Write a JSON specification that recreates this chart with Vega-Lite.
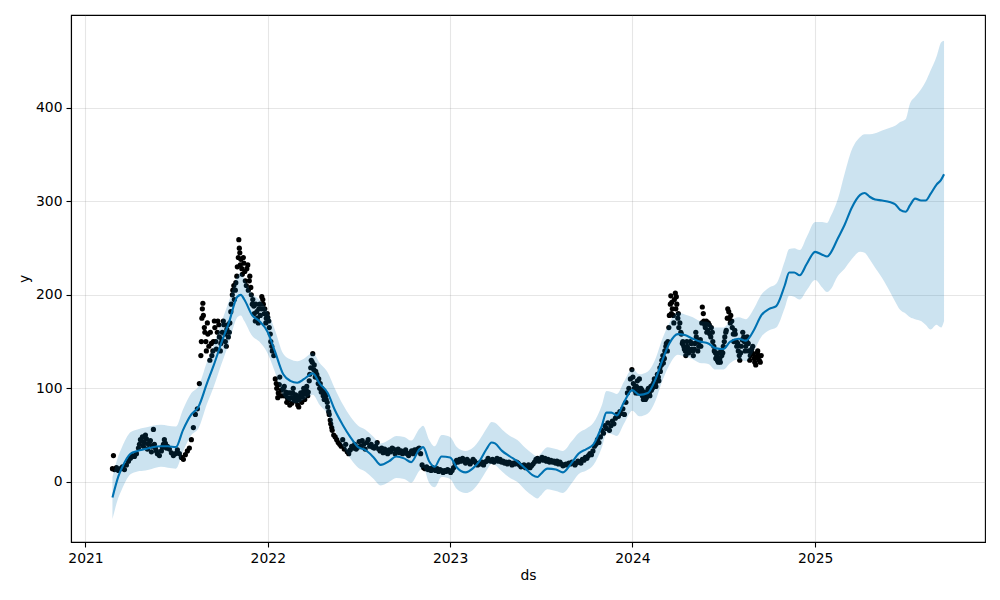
{
  "$schema": "https://vega.github.io/schema/vega-lite/v6.json",
  "width": 914,
  "height": 527,
  "autosize": {"type": "none"},
  "padding": {"left": 71, "top": 15, "right": 15, "bottom": 58},
  "background": "white",
  "config": {
    "view": {"stroke": "black", "strokeWidth": 1.1},
    "font": "DejaVu Sans",
    "axis": {
      "labelFont": "DejaVu Sans", "labelFontSize": 13.9, "labelColor": "black",
      "titleFont": "DejaVu Sans", "titleFontSize": 13.9, "titleFontWeight": "normal", "titleColor": "black",
      "tickColor": "black", "tickSize": 5, "tickWidth": 1.1, "labelPadding": 4,
      "domainColor": "black", "domainWidth": 1.1,
      "grid": true, "gridColor": "#808080", "gridOpacity": 0.2, "gridWidth": 1.1
    }
  },
  "datasets": {
    "obs": [
      {"ds":"2021-02-24","y":14},{"ds":"2021-02-26","y":28},{"ds":"2021-02-28","y":13},{"ds":"2021-03-04","y":15},{"ds":"2021-03-08","y":12},{"ds":"2021-03-12","y":14},{"ds":"2021-03-16","y":16},{"ds":"2021-03-20","y":13},{"ds":"2021-03-24","y":18},{"ds":"2021-03-28","y":22},
      {"ds":"2021-04-01","y":25},{"ds":"2021-04-05","y":28},{"ds":"2021-04-09","y":27},{"ds":"2021-04-13","y":30},{"ds":"2021-04-17","y":36},{"ds":"2021-04-21","y":45},{"ds":"2021-04-25","y":48},{"ds":"2021-04-29","y":42},
      {"ds":"2021-05-03","y":46},{"ds":"2021-05-07","y":40},{"ds":"2021-05-11","y":44},{"ds":"2021-05-15","y":38},{"ds":"2021-05-17","y":56},{"ds":"2021-05-21","y":36},{"ds":"2021-05-25","y":30},{"ds":"2021-05-29","y":28},
      {"ds":"2021-06-02","y":33},{"ds":"2021-06-06","y":40},{"ds":"2021-06-10","y":41},{"ds":"2021-06-14","y":38},{"ds":"2021-06-18","y":35},{"ds":"2021-06-22","y":31},{"ds":"2021-06-26","y":28},{"ds":"2021-06-30","y":30},
      {"ds":"2021-07-04","y":34},{"ds":"2021-07-08","y":30},{"ds":"2021-07-12","y":26},{"ds":"2021-07-16","y":24},{"ds":"2021-07-20","y":29},{"ds":"2021-07-24","y":33},{"ds":"2021-07-28","y":36},
      {"ds":"2021-08-01","y":45},{"ds":"2021-08-05","y":58},{"ds":"2021-08-09","y":72},{"ds":"2021-08-13","y":78},{"ds":"2021-08-17","y":105},{"ds":"2021-08-20","y":135},{"ds":"2021-08-22","y":175},{"ds":"2021-08-24","y":191},{"ds":"2021-08-27","y":165},{"ds":"2021-08-30","y":150},
      {"ds":"2021-09-02","y":170},{"ds":"2021-09-05","y":145},{"ds":"2021-09-08","y":160},{"ds":"2021-09-11","y":135},{"ds":"2021-09-14","y":150},{"ds":"2021-09-17","y":165},{"ds":"2021-09-20","y":142},{"ds":"2021-09-23","y":172},{"ds":"2021-09-26","y":155},{"ds":"2021-09-29","y":148},
      {"ds":"2021-10-02","y":160},{"ds":"2021-10-05","y":168},{"ds":"2021-10-08","y":150},{"ds":"2021-10-11","y":163},{"ds":"2021-10-14","y":155},{"ds":"2021-10-17","y":170},{"ds":"2021-10-20","y":190},{"ds":"2021-10-23","y":205},{"ds":"2021-10-26","y":195},{"ds":"2021-10-29","y":213},
      {"ds":"2021-11-01","y":230},{"ds":"2021-11-04","y":259},{"ds":"2021-11-06","y":245},{"ds":"2021-11-08","y":238},{"ds":"2021-11-11","y":222},{"ds":"2021-11-14","y":234},{"ds":"2021-11-17","y":215},{"ds":"2021-11-20","y":228},{"ds":"2021-11-23","y":205},{"ds":"2021-11-26","y":220},{"ds":"2021-11-29","y":200},
      {"ds":"2021-12-02","y":195},{"ds":"2021-12-05","y":180},{"ds":"2021-12-08","y":190},{"ds":"2021-12-11","y":175},{"ds":"2021-12-14","y":185},{"ds":"2021-12-17","y":178},{"ds":"2021-12-20","y":198},{"ds":"2021-12-23","y":190},{"ds":"2021-12-26","y":185},{"ds":"2021-12-29","y":175},
      {"ds":"2022-01-01","y":176},{"ds":"2022-01-04","y":165},{"ds":"2022-01-07","y":150},{"ds":"2022-01-10","y":140},{"ds":"2022-01-13","y":135},{"ds":"2022-01-16","y":110},{"ds":"2022-01-19","y":100},{"ds":"2022-01-22","y":95},{"ds":"2022-01-25","y":112},{"ds":"2022-01-28","y":98},{"ds":"2022-01-31","y":92},
      {"ds":"2022-02-03","y":102},{"ds":"2022-02-06","y":96},{"ds":"2022-02-09","y":90},{"ds":"2022-02-12","y":88},{"ds":"2022-02-15","y":95},{"ds":"2022-02-18","y":84},{"ds":"2022-02-21","y":100},{"ds":"2022-02-24","y":92},{"ds":"2022-02-27","y":86},
      {"ds":"2022-03-02","y":82},{"ds":"2022-03-05","y":88},{"ds":"2022-03-08","y":95},{"ds":"2022-03-11","y":91},{"ds":"2022-03-14","y":100},{"ds":"2022-03-17","y":94},{"ds":"2022-03-20","y":102},{"ds":"2022-03-23","y":96},{"ds":"2022-03-26","y":115},{"ds":"2022-03-29","y":130},
      {"ds":"2022-04-01","y":137},{"ds":"2022-04-04","y":125},{"ds":"2022-04-07","y":118},{"ds":"2022-04-10","y":112},{"ds":"2022-04-13","y":110},{"ds":"2022-04-16","y":105},{"ds":"2022-04-19","y":100},{"ds":"2022-04-22","y":92},{"ds":"2022-04-25","y":95},{"ds":"2022-04-28","y":88},
      {"ds":"2022-05-01","y":80},{"ds":"2022-05-04","y":72},{"ds":"2022-05-07","y":62},{"ds":"2022-05-10","y":55},{"ds":"2022-05-13","y":50},{"ds":"2022-05-16","y":48},{"ds":"2022-05-19","y":45},{"ds":"2022-05-22","y":42},{"ds":"2022-05-25","y":40},{"ds":"2022-05-28","y":38},{"ds":"2022-05-31","y":45},
      {"ds":"2022-06-03","y":35},{"ds":"2022-06-06","y":40},{"ds":"2022-06-09","y":32},{"ds":"2022-06-12","y":30},{"ds":"2022-06-15","y":34},{"ds":"2022-06-18","y":38},{"ds":"2022-06-21","y":36},{"ds":"2022-06-24","y":40},{"ds":"2022-06-27","y":35},{"ds":"2022-06-30","y":37},
      {"ds":"2022-07-03","y":43},{"ds":"2022-07-06","y":38},{"ds":"2022-07-09","y":44},{"ds":"2022-07-12","y":40},{"ds":"2022-07-15","y":35},{"ds":"2022-07-18","y":42},{"ds":"2022-07-21","y":45},{"ds":"2022-07-24","y":38},{"ds":"2022-07-27","y":40},{"ds":"2022-07-30","y":37},
      {"ds":"2022-08-02","y":36},{"ds":"2022-08-05","y":38},{"ds":"2022-08-08","y":42},{"ds":"2022-08-11","y":35},{"ds":"2022-08-14","y":33},{"ds":"2022-08-17","y":36},{"ds":"2022-08-20","y":31},{"ds":"2022-08-23","y":35},{"ds":"2022-08-26","y":32},{"ds":"2022-08-29","y":30},
      {"ds":"2022-09-01","y":34},{"ds":"2022-09-04","y":32},{"ds":"2022-09-07","y":36},{"ds":"2022-09-10","y":35},{"ds":"2022-09-13","y":30},{"ds":"2022-09-16","y":32},{"ds":"2022-09-19","y":35},{"ds":"2022-09-22","y":31},{"ds":"2022-09-25","y":33},{"ds":"2022-09-28","y":30},
      {"ds":"2022-10-01","y":32},{"ds":"2022-10-04","y":34},{"ds":"2022-10-07","y":30},{"ds":"2022-10-10","y":28},{"ds":"2022-10-13","y":31},{"ds":"2022-10-16","y":33},{"ds":"2022-10-19","y":30},{"ds":"2022-10-22","y":34},{"ds":"2022-10-25","y":32},{"ds":"2022-10-28","y":35},{"ds":"2022-10-31","y":36},
      {"ds":"2022-11-03","y":30},{"ds":"2022-11-06","y":18},{"ds":"2022-11-09","y":15},{"ds":"2022-11-12","y":14},{"ds":"2022-11-15","y":16},{"ds":"2022-11-18","y":13},{"ds":"2022-11-21","y":14},{"ds":"2022-11-24","y":12},{"ds":"2022-11-27","y":15},{"ds":"2022-11-30","y":13},
      {"ds":"2022-12-03","y":12},{"ds":"2022-12-06","y":14},{"ds":"2022-12-09","y":11},{"ds":"2022-12-12","y":13},{"ds":"2022-12-15","y":12},{"ds":"2022-12-18","y":10},{"ds":"2022-12-21","y":12},{"ds":"2022-12-24","y":11},{"ds":"2022-12-27","y":13},{"ds":"2022-12-30","y":12},
      {"ds":"2023-01-02","y":10},{"ds":"2023-01-05","y":12},{"ds":"2023-01-08","y":15},{"ds":"2023-01-11","y":20},{"ds":"2023-01-14","y":23},{"ds":"2023-01-17","y":21},{"ds":"2023-01-20","y":24},{"ds":"2023-01-23","y":22},{"ds":"2023-01-26","y":25},{"ds":"2023-01-29","y":23},
      {"ds":"2023-02-01","y":20},{"ds":"2023-02-04","y":24},{"ds":"2023-02-07","y":22},{"ds":"2023-02-10","y":19},{"ds":"2023-02-13","y":21},{"ds":"2023-02-16","y":24},{"ds":"2023-02-19","y":22},{"ds":"2023-02-22","y":20},{"ds":"2023-02-25","y":18},{"ds":"2023-02-28","y":20},
      {"ds":"2023-03-03","y":19},{"ds":"2023-03-06","y":21},{"ds":"2023-03-09","y":18},{"ds":"2023-03-12","y":21},{"ds":"2023-03-15","y":22},{"ds":"2023-03-18","y":25},{"ds":"2023-03-21","y":23},{"ds":"2023-03-24","y":22},{"ds":"2023-03-27","y":24},{"ds":"2023-03-30","y":21},
      {"ds":"2023-04-02","y":23},{"ds":"2023-04-05","y":25},{"ds":"2023-04-08","y":22},{"ds":"2023-04-11","y":24},{"ds":"2023-04-14","y":21},{"ds":"2023-04-17","y":22},{"ds":"2023-04-20","y":20},{"ds":"2023-04-23","y":21},{"ds":"2023-04-26","y":19},{"ds":"2023-04-29","y":21},
      {"ds":"2023-05-02","y":20},{"ds":"2023-05-05","y":18},{"ds":"2023-05-08","y":20},{"ds":"2023-05-11","y":19},{"ds":"2023-05-14","y":21},{"ds":"2023-05-17","y":20},{"ds":"2023-05-20","y":18},{"ds":"2023-05-23","y":16},{"ds":"2023-05-26","y":17},{"ds":"2023-05-29","y":18},
      {"ds":"2023-06-01","y":15},{"ds":"2023-06-04","y":16},{"ds":"2023-06-07","y":18},{"ds":"2023-06-10","y":15},{"ds":"2023-06-13","y":17},{"ds":"2023-06-16","y":19},{"ds":"2023-06-19","y":21},{"ds":"2023-06-22","y":24},{"ds":"2023-06-25","y":25},{"ds":"2023-06-28","y":22},
      {"ds":"2023-07-01","y":24},{"ds":"2023-07-04","y":26},{"ds":"2023-07-07","y":23},{"ds":"2023-07-10","y":25},{"ds":"2023-07-13","y":22},{"ds":"2023-07-16","y":24},{"ds":"2023-07-19","y":21},{"ds":"2023-07-22","y":23},{"ds":"2023-07-25","y":21},{"ds":"2023-07-28","y":22},{"ds":"2023-07-31","y":20},
      {"ds":"2023-08-03","y":22},{"ds":"2023-08-06","y":19},{"ds":"2023-08-09","y":21},{"ds":"2023-08-12","y":19},{"ds":"2023-08-15","y":17},{"ds":"2023-08-18","y":18},{"ds":"2023-08-21","y":19},{"ds":"2023-08-24","y":18},{"ds":"2023-08-27","y":20},{"ds":"2023-08-30","y":19},
      {"ds":"2023-09-02","y":21},{"ds":"2023-09-05","y":20},{"ds":"2023-09-08","y":18},{"ds":"2023-09-11","y":20},{"ds":"2023-09-14","y":22},{"ds":"2023-09-17","y":21},{"ds":"2023-09-20","y":20},{"ds":"2023-09-23","y":24},{"ds":"2023-09-26","y":23},{"ds":"2023-09-29","y":26},
      {"ds":"2023-10-02","y":25},{"ds":"2023-10-05","y":28},{"ds":"2023-10-08","y":30},{"ds":"2023-10-11","y":29},{"ds":"2023-10-14","y":33},{"ds":"2023-10-17","y":38},{"ds":"2023-10-20","y":40},{"ds":"2023-10-23","y":45},{"ds":"2023-10-26","y":42},{"ds":"2023-10-29","y":48},
      {"ds":"2023-11-01","y":55},{"ds":"2023-11-04","y":52},{"ds":"2023-11-07","y":60},{"ds":"2023-11-10","y":57},{"ds":"2023-11-13","y":63},{"ds":"2023-11-16","y":55},{"ds":"2023-11-19","y":60},{"ds":"2023-11-22","y":65},{"ds":"2023-11-25","y":62},{"ds":"2023-11-28","y":68},
      {"ds":"2023-12-01","y":72},{"ds":"2023-12-04","y":70},{"ds":"2023-12-07","y":75},{"ds":"2023-12-10","y":73},{"ds":"2023-12-13","y":78},{"ds":"2023-12-16","y":72},{"ds":"2023-12-19","y":85},{"ds":"2023-12-22","y":95},{"ds":"2023-12-25","y":100},{"ds":"2023-12-28","y":110},
      {"ds":"2023-12-31","y":120},{"ds":"2024-01-03","y":105},{"ds":"2024-01-06","y":98},{"ds":"2024-01-09","y":102},{"ds":"2024-01-12","y":95},{"ds":"2024-01-15","y":110},{"ds":"2024-01-18","y":100},{"ds":"2024-01-21","y":92},{"ds":"2024-01-24","y":96},{"ds":"2024-01-27","y":88},{"ds":"2024-01-30","y":95},
      {"ds":"2024-02-02","y":100},{"ds":"2024-02-05","y":92},{"ds":"2024-02-08","y":98},{"ds":"2024-02-11","y":104},{"ds":"2024-02-14","y":110},{"ds":"2024-02-17","y":102},{"ds":"2024-02-20","y":115},{"ds":"2024-02-23","y":108},{"ds":"2024-02-26","y":118},{"ds":"2024-02-29","y":130},
      {"ds":"2024-03-03","y":127},{"ds":"2024-03-06","y":140},{"ds":"2024-03-09","y":148},{"ds":"2024-03-12","y":150},{"ds":"2024-03-15","y":178},{"ds":"2024-03-18","y":199},{"ds":"2024-03-21","y":185},{"ds":"2024-03-24","y":170},{"ds":"2024-03-27","y":202},{"ds":"2024-03-30","y":190},
      {"ds":"2024-04-02","y":180},{"ds":"2024-04-05","y":170},{"ds":"2024-04-08","y":158},{"ds":"2024-04-11","y":150},{"ds":"2024-04-14","y":142},{"ds":"2024-04-17","y":135},{"ds":"2024-04-20","y":145},{"ds":"2024-04-23","y":138},{"ds":"2024-04-26","y":150},{"ds":"2024-04-29","y":142},
      {"ds":"2024-05-02","y":135},{"ds":"2024-05-05","y":148},{"ds":"2024-05-08","y":155},{"ds":"2024-05-11","y":140},{"ds":"2024-05-14","y":150},{"ds":"2024-05-17","y":145},{"ds":"2024-05-20","y":187},{"ds":"2024-05-23","y":172},{"ds":"2024-05-26","y":165},{"ds":"2024-05-29","y":160},
      {"ds":"2024-06-01","y":170},{"ds":"2024-06-04","y":158},{"ds":"2024-06-07","y":165},{"ds":"2024-06-10","y":150},{"ds":"2024-06-13","y":140},{"ds":"2024-06-16","y":132},{"ds":"2024-06-19","y":130},{"ds":"2024-06-22","y":138},{"ds":"2024-06-25","y":128},{"ds":"2024-06-28","y":135},
      {"ds":"2024-07-01","y":145},{"ds":"2024-07-04","y":155},{"ds":"2024-07-07","y":162},{"ds":"2024-07-10","y":185},{"ds":"2024-07-13","y":175},{"ds":"2024-07-16","y":178},{"ds":"2024-07-19","y":165},{"ds":"2024-07-22","y":150},{"ds":"2024-07-25","y":158},{"ds":"2024-07-28","y":145},{"ds":"2024-07-31","y":140},
      {"ds":"2024-08-03","y":130},{"ds":"2024-08-06","y":145},{"ds":"2024-08-09","y":160},{"ds":"2024-08-12","y":150},{"ds":"2024-08-15","y":145},{"ds":"2024-08-18","y":155},{"ds":"2024-08-21","y":140},{"ds":"2024-08-24","y":135},{"ds":"2024-08-27","y":142},{"ds":"2024-08-30","y":137},
      {"ds":"2024-09-02","y":128},{"ds":"2024-09-05","y":133},{"ds":"2024-09-08","y":140},{"ds":"2024-09-11","y":130},{"ds":"2024-09-15","y":135},
      {"ds":"2021-04-19","y":40},{"ds":"2021-04-23","y":44},{"ds":"2021-04-27","y":38},{"ds":"2021-05-01","y":50},{"ds":"2021-05-05","y":35},{"ds":"2021-05-09","y":42},{"ds":"2021-05-13","y":32},{"ds":"2021-05-19","y":40},{"ds":"2021-05-23","y":33},{"ds":"2021-06-04","y":37},{"ds":"2021-06-08","y":45},{"ds":"2021-06-12","y":36},
      {"ds":"2021-08-21","y":150},{"ds":"2021-08-23","y":185},{"ds":"2021-08-25","y":178},{"ds":"2021-08-28","y":160},{"ds":"2021-08-31","y":140},{"ds":"2021-09-03","y":158},{"ds":"2021-09-07","y":130},{"ds":"2021-09-10","y":148},{"ds":"2021-09-13","y":140},{"ds":"2021-09-16","y":172},{"ds":"2021-09-19","y":150},{"ds":"2021-09-22","y":160},{"ds":"2021-09-25","y":168},{"ds":"2021-09-28","y":140},
      {"ds":"2021-10-01","y":152},{"ds":"2021-10-04","y":172},{"ds":"2021-10-07","y":158},{"ds":"2021-10-10","y":145},{"ds":"2021-10-13","y":168},{"ds":"2021-10-16","y":160},{"ds":"2021-10-19","y":182},{"ds":"2021-10-22","y":200},{"ds":"2021-10-25","y":210},{"ds":"2021-10-28","y":205},{"ds":"2021-10-31","y":220},
      {"ds":"2021-11-03","y":240},{"ds":"2021-11-05","y":250},{"ds":"2021-11-07","y":232},{"ds":"2021-11-10","y":228},{"ds":"2021-11-13","y":240},{"ds":"2021-11-16","y":225},{"ds":"2021-11-19","y":210},{"ds":"2021-11-22","y":232},{"ds":"2021-11-25","y":215},{"ds":"2021-11-28","y":208},
      {"ds":"2021-12-01","y":190},{"ds":"2021-12-04","y":188},{"ds":"2021-12-07","y":172},{"ds":"2021-12-10","y":182},{"ds":"2021-12-13","y":170},{"ds":"2021-12-16","y":190},{"ds":"2021-12-19","y":185},{"ds":"2021-12-22","y":195},{"ds":"2021-12-25","y":180},{"ds":"2021-12-28","y":170},{"ds":"2021-12-31","y":180},
      {"ds":"2022-01-03","y":172},{"ds":"2022-01-06","y":158},{"ds":"2022-01-09","y":145},{"ds":"2022-01-18","y":105},{"ds":"2022-01-21","y":90},{"ds":"2022-01-24","y":104},{"ds":"2022-01-27","y":92},{"ds":"2022-02-01","y":100},{"ds":"2022-02-04","y":92},{"ds":"2022-02-08","y":85},{"ds":"2022-02-11","y":95},{"ds":"2022-02-14","y":82},{"ds":"2022-02-17","y":90},{"ds":"2022-02-20","y":95},{"ds":"2022-02-23","y":88},{"ds":"2022-02-26","y":93},
      {"ds":"2022-03-01","y":90},{"ds":"2022-03-04","y":80},{"ds":"2022-03-07","y":92},{"ds":"2022-03-10","y":85},{"ds":"2022-03-13","y":96},{"ds":"2022-03-16","y":88},{"ds":"2022-03-19","y":98},{"ds":"2022-03-22","y":92},{"ds":"2022-03-25","y":108},{"ds":"2022-03-28","y":122},{"ds":"2022-03-31","y":128},
      {"ds":"2022-04-03","y":120},{"ds":"2022-04-06","y":112},{"ds":"2022-04-09","y":115},{"ds":"2022-04-12","y":105},{"ds":"2022-04-15","y":100},{"ds":"2022-04-18","y":96},{"ds":"2022-04-21","y":98},{"ds":"2022-04-24","y":88},{"ds":"2022-04-27","y":92},{"ds":"2022-04-30","y":85},{"ds":"2022-05-03","y":75},{"ds":"2022-05-06","y":66},{"ds":"2022-05-09","y":58},
      {"ds":"2024-01-02","y":112},{"ds":"2024-01-05","y":100},{"ds":"2024-01-08","y":95},{"ds":"2024-01-11","y":108},{"ds":"2024-01-14","y":100},{"ds":"2024-01-17","y":95},{"ds":"2024-01-20","y":98},{"ds":"2024-01-23","y":88},{"ds":"2024-01-26","y":92},{"ds":"2024-01-29","y":90},
      {"ds":"2024-02-01","y":98},{"ds":"2024-02-04","y":95},{"ds":"2024-02-07","y":102},{"ds":"2024-02-10","y":100},{"ds":"2024-02-13","y":106},{"ds":"2024-02-16","y":105},{"ds":"2024-02-19","y":110},{"ds":"2024-02-22","y":112},{"ds":"2024-02-25","y":122},{"ds":"2024-02-28","y":125},
      {"ds":"2024-03-02","y":135},{"ds":"2024-03-05","y":132},{"ds":"2024-03-08","y":145},{"ds":"2024-03-11","y":140},{"ds":"2024-03-14","y":165},{"ds":"2024-03-17","y":190},{"ds":"2024-03-19","y":180},{"ds":"2024-03-20","y":192},{"ds":"2024-03-23","y":178},{"ds":"2024-03-25","y":195},{"ds":"2024-03-28","y":185},{"ds":"2024-03-29","y":198},
      {"ds":"2024-04-01","y":175},{"ds":"2024-04-03","y":165},{"ds":"2024-04-07","y":160},{"ds":"2024-04-10","y":148},{"ds":"2024-04-13","y":145},{"ds":"2024-04-16","y":140},{"ds":"2024-04-19","y":150},{"ds":"2024-04-22","y":142},{"ds":"2024-04-25","y":140},{"ds":"2024-04-28","y":148},
      {"ds":"2024-05-01","y":140},{"ds":"2024-05-04","y":142},{"ds":"2024-05-07","y":160},{"ds":"2024-05-10","y":150},{"ds":"2024-05-13","y":145},{"ds":"2024-05-16","y":152},{"ds":"2024-05-19","y":170},{"ds":"2024-05-22","y":180},{"ds":"2024-05-25","y":168},{"ds":"2024-05-28","y":172},{"ds":"2024-05-31","y":162},
      {"ds":"2024-06-03","y":168},{"ds":"2024-06-06","y":155},{"ds":"2024-06-09","y":160},{"ds":"2024-06-12","y":145},{"ds":"2024-06-15","y":138},{"ds":"2024-06-18","y":135},{"ds":"2024-06-21","y":128},{"ds":"2024-06-24","y":132},{"ds":"2024-06-27","y":140},{"ds":"2024-06-30","y":138},
      {"ds":"2024-07-03","y":150},{"ds":"2024-07-06","y":160},{"ds":"2024-07-09","y":175},{"ds":"2024-07-12","y":182},{"ds":"2024-07-15","y":170},{"ds":"2024-07-18","y":172},{"ds":"2024-07-21","y":158},{"ds":"2024-07-24","y":162},{"ds":"2024-07-27","y":150},{"ds":"2024-07-30","y":148},
      {"ds":"2024-08-02","y":135},{"ds":"2024-08-05","y":138},{"ds":"2024-08-08","y":152},{"ds":"2024-08-11","y":155},{"ds":"2024-08-14","y":140},{"ds":"2024-08-17","y":150},{"ds":"2024-08-20","y":148},{"ds":"2024-08-23","y":130},{"ds":"2024-08-26","y":138},{"ds":"2024-08-29","y":145},
      {"ds":"2024-09-01","y":132},{"ds":"2024-09-04","y":125},{"ds":"2024-09-07","y":138},{"ds":"2024-09-10","y":135},{"ds":"2024-09-13","y":128}
    ],
    "fc": [
      {"ds":"2021-02-24","yhat":-17,"lo":-40,"hi":5},{"ds":"2021-03-08","yhat":6,"lo":-17,"hi":28},{"ds":"2021-03-15","yhat":15,"lo":-8,"hi":37},{"ds":"2021-04-01","yhat":30,"lo":8,"hi":53},{"ds":"2021-04-15","yhat":33,"lo":11,"hi":56},
      {"ds":"2021-05-01","yhat":35,"lo":12,"hi":58},{"ds":"2021-05-15","yhat":37,"lo":14,"hi":60},{"ds":"2021-06-01","yhat":38,"lo":16,"hi":61},{"ds":"2021-06-15","yhat":38,"lo":15,"hi":60},{"ds":"2021-07-01","yhat":37,"lo":14,"hi":59},
      {"ds":"2021-07-15","yhat":55,"lo":32,"hi":77},{"ds":"2021-08-01","yhat":72,"lo":50,"hi":95},{"ds":"2021-08-15","yhat":80,"lo":57,"hi":102},{"ds":"2021-09-01","yhat":105,"lo":83,"hi":128},{"ds":"2021-09-15","yhat":125,"lo":102,"hi":147},
      {"ds":"2021-10-01","yhat":150,"lo":127,"hi":172},{"ds":"2021-10-15","yhat":170,"lo":148,"hi":193},{"ds":"2021-11-01","yhat":198,"lo":176,"hi":220},{"ds":"2021-11-08","yhat":200,"lo":178,"hi":223},{"ds":"2021-11-15","yhat":195,"lo":172,"hi":217},
      {"ds":"2021-12-01","yhat":178,"lo":156,"hi":201},{"ds":"2021-12-15","yhat":172,"lo":150,"hi":195},{"ds":"2022-01-01","yhat":160,"lo":137,"hi":182},{"ds":"2022-01-15","yhat":140,"lo":118,"hi":163},{"ds":"2022-02-01","yhat":115,"lo":92,"hi":137},
      {"ds":"2022-02-15","yhat":108,"lo":86,"hi":131},{"ds":"2022-03-01","yhat":106,"lo":84,"hi":129},{"ds":"2022-03-15","yhat":110,"lo":88,"hi":132},{"ds":"2022-04-01","yhat":116,"lo":93,"hi":138},{"ds":"2022-04-15","yhat":105,"lo":82,"hi":127},
      {"ds":"2022-05-01","yhat":95,"lo":72,"hi":117},{"ds":"2022-05-15","yhat":77,"lo":55,"hi":100},{"ds":"2022-06-01","yhat":60,"lo":37,"hi":82},{"ds":"2022-06-15","yhat":48,"lo":25,"hi":70},{"ds":"2022-07-01","yhat":37,"lo":15,"hi":60},
      {"ds":"2022-07-15","yhat":34,"lo":11,"hi":56},{"ds":"2022-08-01","yhat":26,"lo":3,"hi":48},{"ds":"2022-08-15","yhat":18,"lo":-4,"hi":41},{"ds":"2022-09-01","yhat":22,"lo":0,"hi":45},{"ds":"2022-09-15","yhat":27,"lo":4,"hi":49},
      {"ds":"2022-10-01","yhat":25,"lo":3,"hi":48},{"ds":"2022-10-15","yhat":21,"lo":-1,"hi":44},{"ds":"2022-11-01","yhat":35,"lo":12,"hi":57},{"ds":"2022-11-08","yhat":37,"lo":15,"hi":60},{"ds":"2022-11-20","yhat":22,"lo":-1,"hi":45},
      {"ds":"2022-12-01","yhat":16,"lo":-6,"hi":38},{"ds":"2022-12-15","yhat":27,"lo":5,"hi":50},{"ds":"2023-01-01","yhat":26,"lo":3,"hi":48},{"ds":"2023-01-15","yhat":15,"lo":-8,"hi":37},{"ds":"2023-02-01","yhat":10,"lo":-12,"hi":33},
      {"ds":"2023-02-15","yhat":14,"lo":-9,"hi":36},{"ds":"2023-03-01","yhat":22,"lo":0,"hi":45},{"ds":"2023-03-15","yhat":35,"lo":12,"hi":57},{"ds":"2023-03-25","yhat":42,"lo":19,"hi":64},{"ds":"2023-04-01","yhat":41,"lo":18,"hi":63},
      {"ds":"2023-04-15","yhat":33,"lo":11,"hi":56},{"ds":"2023-05-01","yhat":27,"lo":4,"hi":49},{"ds":"2023-05-15","yhat":22,"lo":0,"hi":45},{"ds":"2023-06-01","yhat":14,"lo":-9,"hi":36},{"ds":"2023-06-15","yhat":7,"lo":-15,"hi":30},
      {"ds":"2023-06-25","yhat":5,"lo":-18,"hi":27},{"ds":"2023-07-01","yhat":8,"lo":-15,"hi":30},{"ds":"2023-07-15","yhat":14,"lo":-8,"hi":37},{"ds":"2023-08-01","yhat":13,"lo":-10,"hi":35},{"ds":"2023-08-15","yhat":10,"lo":-12,"hi":33},
      {"ds":"2023-09-01","yhat":20,"lo":-2,"hi":43},{"ds":"2023-09-15","yhat":30,"lo":8,"hi":52},{"ds":"2023-10-01","yhat":35,"lo":12,"hi":57},{"ds":"2023-10-15","yhat":40,"lo":18,"hi":63},{"ds":"2023-11-01","yhat":60,"lo":37,"hi":82},
      {"ds":"2023-11-10","yhat":74,"lo":52,"hi":97},{"ds":"2023-11-20","yhat":74,"lo":51,"hi":96},{"ds":"2023-12-01","yhat":71,"lo":49,"hi":94},{"ds":"2023-12-15","yhat":85,"lo":62,"hi":107},{"ds":"2024-01-01","yhat":98,"lo":76,"hi":121},
      {"ds":"2024-01-15","yhat":93,"lo":70,"hi":115},{"ds":"2024-02-01","yhat":95,"lo":73,"hi":118},{"ds":"2024-02-15","yhat":108,"lo":85,"hi":130},{"ds":"2024-03-01","yhat":130,"lo":108,"hi":153},{"ds":"2024-03-15","yhat":148,"lo":125,"hi":170},
      {"ds":"2024-04-01","yhat":158,"lo":136,"hi":181},{"ds":"2024-04-15","yhat":157,"lo":134,"hi":179},{"ds":"2024-05-01","yhat":153,"lo":131,"hi":176},{"ds":"2024-05-15","yhat":150,"lo":127,"hi":172},{"ds":"2024-06-01","yhat":148,"lo":126,"hi":171},
      {"ds":"2024-06-15","yhat":143,"lo":120,"hi":165},{"ds":"2024-07-01","yhat":142,"lo":120,"hi":165},{"ds":"2024-07-15","yhat":150,"lo":127,"hi":172},{"ds":"2024-08-01","yhat":153,"lo":131,"hi":176},{"ds":"2024-08-15","yhat":151,"lo":129,"hi":174},
      {"ds":"2024-09-01","yhat":163,"lo":141,"hi":186},{"ds":"2024-09-15","yhat":178,"lo":155,"hi":200},{"ds":"2024-10-01","yhat":185,"lo":162,"hi":208},{"ds":"2024-10-15","yhat":188,"lo":165,"hi":212},{"ds":"2024-11-01","yhat":210,"lo":186,"hi":236},
      {"ds":"2024-11-10","yhat":224,"lo":199,"hi":249},{"ds":"2024-11-20","yhat":224,"lo":198,"hi":250},{"ds":"2024-12-01","yhat":221,"lo":195,"hi":248},{"ds":"2024-12-15","yhat":233,"lo":205,"hi":262},{"ds":"2025-01-01","yhat":246,"lo":216,"hi":278},
      {"ds":"2025-01-15","yhat":243,"lo":208,"hi":278},{"ds":"2025-01-25","yhat":241,"lo":203,"hi":277},{"ds":"2025-02-01","yhat":245,"lo":206,"hi":284},{"ds":"2025-02-15","yhat":260,"lo":220,"hi":302},{"ds":"2025-03-01","yhat":275,"lo":228,"hi":330},
      {"ds":"2025-03-15","yhat":293,"lo":238,"hi":355},{"ds":"2025-04-01","yhat":307,"lo":246,"hi":369},{"ds":"2025-04-10","yhat":309,"lo":245,"hi":372},{"ds":"2025-04-20","yhat":305,"lo":238,"hi":372},{"ds":"2025-05-01","yhat":302,"lo":229,"hi":373},
      {"ds":"2025-05-15","yhat":301,"lo":218,"hi":376},{"ds":"2025-06-01","yhat":299,"lo":202,"hi":379},{"ds":"2025-06-10","yhat":297,"lo":193,"hi":381},{"ds":"2025-06-20","yhat":291,"lo":184,"hi":385},{"ds":"2025-07-01","yhat":289,"lo":180,"hi":388},
      {"ds":"2025-07-10","yhat":296,"lo":176,"hi":405},{"ds":"2025-07-20","yhat":303,"lo":174,"hi":412},{"ds":"2025-08-01","yhat":301,"lo":172,"hi":420},{"ds":"2025-08-10","yhat":301,"lo":168,"hi":428},{"ds":"2025-08-20","yhat":308,"lo":163,"hi":440},
      {"ds":"2025-09-01","yhat":318,"lo":168,"hi":455},{"ds":"2025-09-10","yhat":323,"lo":165,"hi":470},{"ds":"2025-09-16","yhat":329,"lo":172,"hi":472}
    ]
  },
  "layer": [
    {
      "data": {"name": "obs"},
      "mark": {"type": "circle", "color": "black", "size": 27, "opacity": 1},
      "encoding": {
        "x": {"field": "ds", "type": "temporal", "title": "ds",
              "scale": {"domain": ["2020-12-03", "2025-12-07"]},
              "axis": {"format": "%Y", "tickCount": {"interval": "year", "step": 1}}},
        "y": {"field": "y", "type": "quantitative", "title": "y",
              "scale": {"domain": [-64.5, 499.5], "nice": false, "zero": false},
              "axis": {"values": [0, 100, 200, 300, 400]}}
      }
    },
    {
      "data": {"name": "fc"},
      "mark": {"type": "line", "color": "#0072B2", "strokeWidth": 2.1, "interpolate": "monotone"},
      "encoding": {
        "x": {"field": "ds", "type": "temporal"},
        "y": {"field": "yhat", "type": "quantitative"}
      }
    },
    {
      "data": {"name": "fc"},
      "mark": {"type": "area", "color": "#0072B2", "opacity": 0.2, "interpolate": "monotone"},
      "encoding": {
        "x": {"field": "ds", "type": "temporal"},
        "y": {"field": "lo", "type": "quantitative"},
        "y2": {"field": "hi"}
      }
    }
  ]
}
